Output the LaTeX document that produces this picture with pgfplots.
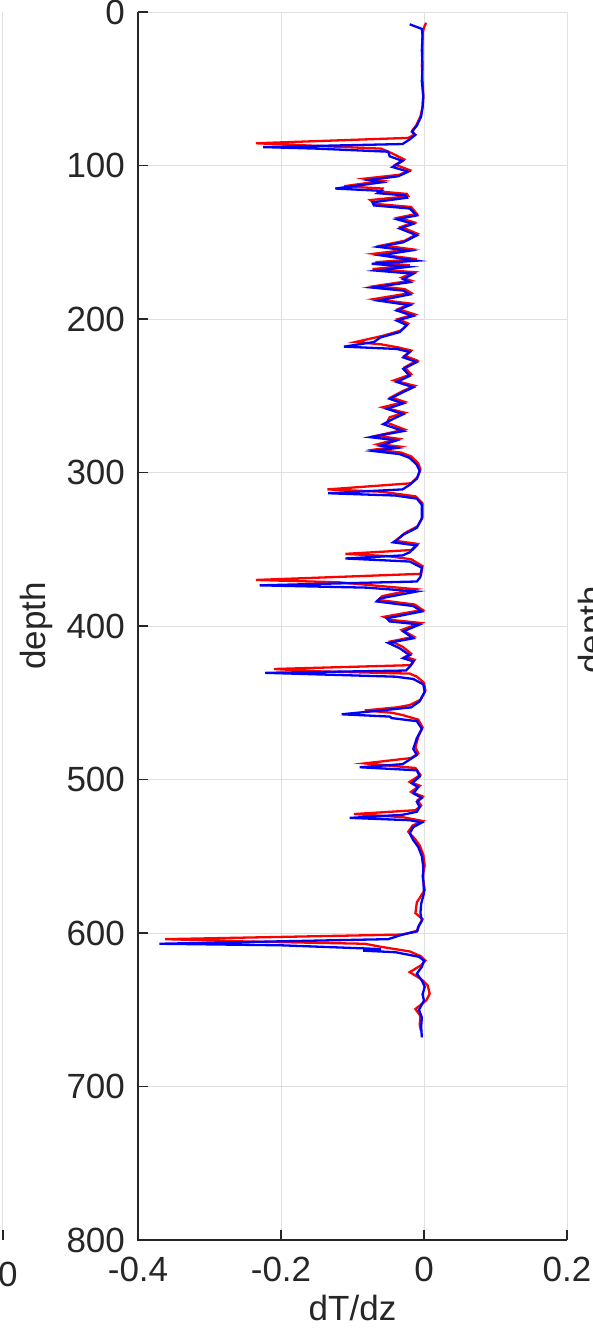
\documentclass[border=0pt]{standalone}
\usepackage{fontspec}
\setmainfont{Liberation Sans}
\usepackage{pgfplots}
\pgfplotsset{compat=1.18}
\begin{document}
\begin{tikzpicture}
\path[use as bounding box] (-69pt,-45.5pt) rectangle (227.5pt,620pt);
\begin{axis}[
  at={(0,0)}, anchor=south west,
  scale only axis, width=214.5pt, height=614pt,
  xmin=-0.4, xmax=0.2, ymin=0, ymax=800,
  y dir=reverse,
  xtick={-0.4,-0.2,0,0.2}, xticklabels={-0.4,-0.2,0,0.2},
  ytick={0,100,...,800},
  grid=major, grid style={gray!25, line width=0.5pt},
  axis line style={draw=none},
  tick align=inside, major tick length=5pt,
  xtick pos=bottom, ytick pos=left,
  tick style={black!85, line width=0.6pt},
  /pgf/number format/assume math mode=true,
  every tick label/.append style={font=\fontsize{17.5}{20}\selectfont, text=black!85},
  xticklabel style={yshift=-5pt},
  yticklabel style={xshift=-3pt},
  label style={font=\fontsize{17.5}{20}\selectfont, text=black!85},
  xlabel={dT/dz}, ylabel={depth},
  clip=false,
]
\addplot[red, line width=1.15pt] coordinates {
(0.003,7) (0.000,10) (-0.002,14) (-0.002,25) (-0.003,35) (-0.002,45) (-0.001,55) (-0.002,62)
(-0.005,68) (-0.011,74) (-0.016,77) (-0.014,80) (-0.022,82) (-0.235,85.5) (-0.160,87) (-0.060,89)
(-0.045,92) (-0.028,96) (-0.040,99.5) (-0.020,103) (-0.034,106) (-0.082,108.5) (-0.058,110)
(-0.112,113.5) (-0.058,115) (-0.060,117) (-0.024,118.5) (-0.022,120) (-0.075,122.5) (-0.068,125)
(-0.018,127) (-0.010,131.5) (-0.036,134) (-0.014,137) (-0.032,140) (-0.009,144.5) (-0.027,149)
(-0.058,152) (-0.018,154.5) (-0.070,157.5) (-0.010,161) (-0.068,163) (-0.020,165) (-0.072,167.5)
(-0.013,169.5) (-0.031,173) (-0.018,175) (-0.068,178.5) (-0.027,180.5) (-0.018,183) (-0.070,187)
(-0.018,190) (-0.036,193.5) (-0.013,197) (-0.036,200) (-0.022,203) (-0.032,207.5) (-0.058,211)
(-0.096,215) (-0.060,216.5) (-0.036,218.5) (-0.018,220.5) (-0.027,224) (-0.010,227) (-0.027,231.5)
(-0.018,236) (-0.042,240) (-0.013,243.5) (-0.030,247) (-0.046,251) (-0.027,254) (-0.058,257.5)
(-0.027,261) (-0.048,264) (-0.052,267.5) (-0.027,272) (-0.066,276) (-0.036,278) (-0.064,281.5)
(-0.036,283) (-0.068,285) (-0.032,287) (-0.018,289.5) (-0.008,294) (-0.005,298) (-0.009,303)
(-0.018,307) (-0.135,311) (-0.060,312.5) (-0.012,315.5) (-0.002,320) (-0.002,329) (-0.009,335)
(-0.027,339.5) (-0.036,343) (-0.040,344.5) (-0.009,346.5) (-0.018,350.5) (-0.110,353) (-0.050,354.5)
(-0.018,356.5) (-0.002,361) (-0.004,366) (-0.235,370) (-0.120,371.5) (-0.012,376) (-0.058,380.5)
(-0.064,383) (-0.013,386) (-0.002,389.5) (-0.056,394) (-0.046,396) (-0.005,398) (-0.031,402.5)
(-0.014,407) (-0.046,410) (-0.030,413.5) (-0.018,418) (-0.026,420) (-0.013,422) (-0.018,425.5)
(-0.210,428) (-0.150,429.5) (-0.020,431) (-0.010,433) (0.000,437) (0.002,442) (-0.005,448)
(-0.020,451.5) (-0.038,453) (-0.083,455) (-0.045,456.5) (-0.030,458) (-0.008,461) (-0.002,466)
(-0.008,472) (-0.012,479) (-0.008,483) (-0.018,486) (-0.083,489.5) (-0.012,492.5) (-0.005,497)
(-0.020,501.5) (-0.006,504) (-0.018,508) (-0.002,511) (-0.009,513.5) (-0.004,517) (-0.012,520)
(-0.098,522.5) (-0.030,524.5) (-0.002,527) (-0.016,530) (-0.022,534) (-0.013,538.5) (-0.006,543)
(-0.001,549) (0.001,556) (-0.002,563) (0.001,572) (-0.010,580) (-0.012,587) (-0.002,591)
(-0.007,595) (-0.009,598.5) (-0.030,601) (-0.362,604) (-0.250,605.5) (-0.083,607) (-0.060,609)
(-0.020,612) (-0.005,615) (0.002,618) (-0.004,621) (-0.020,625.5) (-0.004,630) (0.005,634)
(0.008,639.5) (0.003,644) (-0.012,649.5) (-0.005,654) (-0.006,660) (-0.004,664)
};
\addplot[blue, line width=1.15pt] coordinates {
(-0.020,8) (-0.003,11) (-0.002,15) (-0.003,25) (-0.002,35) (-0.003,45) (-0.001,55) (-0.002,62)
(-0.004,68) (-0.010,74) (-0.017,78) (-0.012,80) (-0.020,83) (-0.030,86) (-0.225,88) (-0.150,89)
(-0.050,91) (-0.048,94) (-0.030,97) (-0.044,101) (-0.022,104) (-0.036,107) (-0.078,109.5)
(-0.060,111) (-0.124,115) (-0.060,116.5) (-0.065,118) (-0.026,119.5) (-0.024,121) (-0.072,124)
(-0.070,126) (-0.020,128) (-0.010,132.5) (-0.038,135) (-0.015,138) (-0.034,141) (-0.010,145.5)
(-0.029,150) (-0.064,153) (-0.020,155.5) (-0.061,158.5) (-0.010,162) (-0.073,164) (-0.022,166)
(-0.066,168.5) (-0.015,170.5) (-0.029,174) (-0.020,176) (-0.073,179.5) (-0.029,181.5) (-0.020,184)
(-0.064,188) (-0.020,191) (-0.038,194.5) (-0.015,198) (-0.038,201) (-0.024,204) (-0.034,208.5)
(-0.061,212) (-0.070,215) (-0.112,218) (-0.038,219.5) (-0.020,221.5) (-0.029,225) (-0.010,228)
(-0.029,232.5) (-0.020,237) (-0.038,241) (-0.015,244.5) (-0.031,248) (-0.048,252) (-0.029,255)
(-0.052,258.5) (-0.029,262) (-0.043,265) (-0.057,268.5) (-0.029,273) (-0.075,277) (-0.038,279)
(-0.061,282.5) (-0.038,284) (-0.071,286) (-0.034,288) (-0.020,290.5) (-0.010,295) (-0.006,299)
(-0.010,304) (-0.020,308) (-0.030,311) (-0.134,313.5) (-0.040,315) (-0.010,317) (-0.003,321)
(-0.003,330) (-0.010,336) (-0.029,340.5) (-0.038,344) (-0.043,345.5) (-0.010,347.5) (-0.020,352)
(-0.030,354) (-0.110,356) (-0.020,358) (-0.003,362) (-0.005,368) (-0.010,371) (-0.230,373.5)
(-0.080,375) (-0.010,377.5) (-0.061,382) (-0.066,384) (-0.015,387) (-0.003,390.5) (-0.052,395)
(-0.048,397) (-0.006,399) (-0.029,403.5) (-0.015,408) (-0.050,411) (-0.034,414.5) (-0.020,419)
(-0.029,421) (-0.015,423) (-0.020,426.5) (-0.025,429) (-0.222,430.5) (-0.040,433) (-0.015,434.5)
(-0.001,438) (0.001,443) (-0.006,449) (-0.018,453) (-0.060,455) (-0.115,457.5) (-0.048,459)
(-0.045,460) (-0.010,462) (-0.003,467) (-0.010,473) (-0.015,480) (-0.010,484) (-0.020,487)
(-0.030,490) (-0.090,492) (-0.010,494) (-0.006,498) (-0.017,502.5) (-0.008,505) (-0.015,509)
(-0.003,512) (-0.010,514.5) (-0.006,518) (-0.010,521) (-0.030,523) (-0.104,525) (-0.020,526.5)
(-0.003,528) (-0.015,531) (-0.020,535) (-0.015,539.5) (-0.008,544) (-0.003,550) (-0.001,557)
(-0.001,565) (0.000,574) (-0.004,581) (-0.005,587) (-0.003,592) (-0.008,596) (-0.010,599)
(-0.030,601) (-0.050,604) (-0.370,607) (-0.200,608) (-0.085,610) (-0.060,610.5) (-0.085,611.5)
(-0.040,612.5) (-0.007,615.5) (0.000,618) (-0.003,622) (-0.010,626.5) (-0.003,631) (0.001,635)
(-0.002,640) (0.000,644) (-0.007,650) (-0.003,655) (-0.004,661) (-0.003,668)
};
\draw[black!85, line width=0.6pt] (axis description cs:0,1) -- (axis description cs:0,0) -- (axis description cs:1,0);
\end{axis}
% fragments of the neighbouring panels
\draw[gray!25, line width=0.5pt] (-67.5pt,0) -- (-67.5pt,614pt);
\draw[black!85, line width=0.6pt] (-67.5pt,0) -- (-67.5pt,5pt);
\node[anchor=north east, inner sep=0pt, font=\fontsize{17.5}{20}\selectfont, text=black!85] at (-60pt,-11pt) {50};
\node[rotate=90, font=\fontsize{17.5}{20}\selectfont, text=black!85] at (228pt,305pt) {depth};
\end{tikzpicture}
\end{document}
